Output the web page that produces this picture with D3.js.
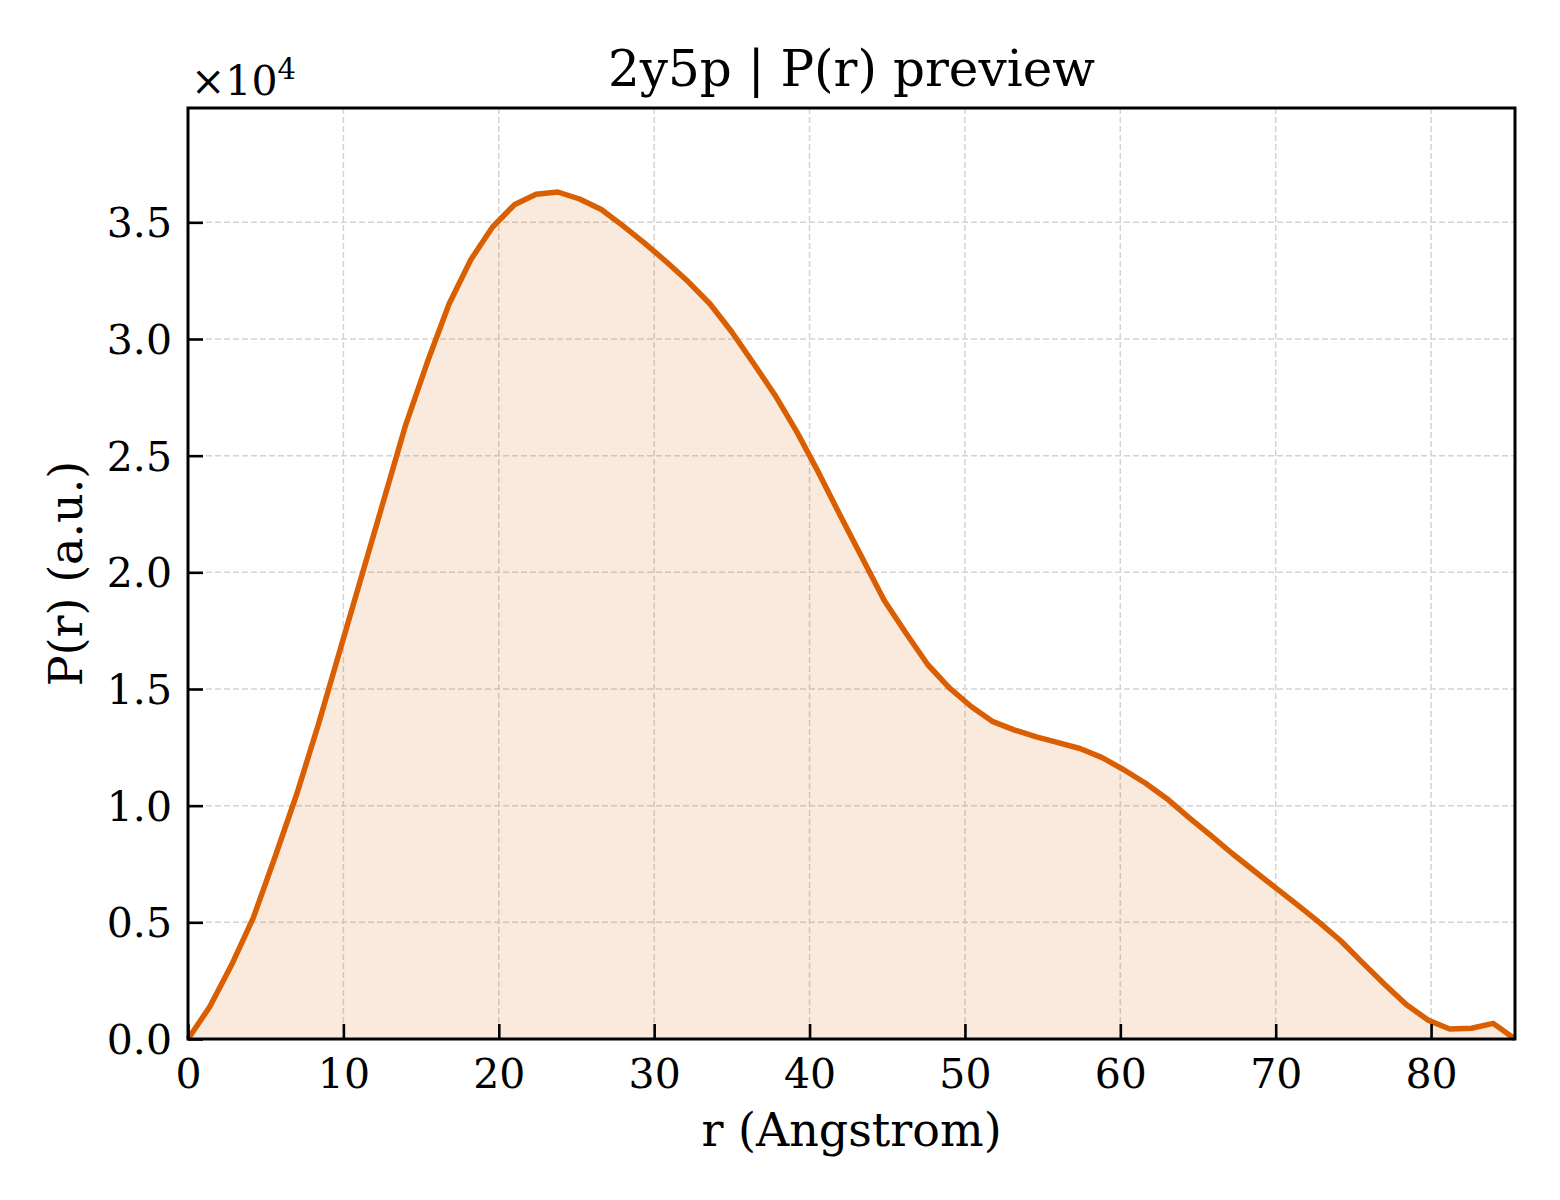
<!DOCTYPE html>
<html>
<head>
<meta charset="utf-8">
<script src="https://cdn.jsdelivr.net/npm/d3@7"></script>
<style>
  body { margin: 0; background: #fff; }
  svg { display: block; font-family: "DejaVu Serif", serif; }
</style>
</head>
<body>
<div id="chart"></div>
<script>
const rValues = [0, 1.4, 2.8, 4.2, 5.6, 7.0, 8.4, 9.8, 11.2, 12.6, 14.0, 15.4, 16.8, 18.2, 19.6,
  21.0, 22.4, 23.8, 25.2, 26.6, 28.0, 29.4, 30.8, 32.2, 33.6, 35.0, 36.4, 37.8, 39.2, 40.6,
  42.0, 43.4, 44.8, 46.2, 47.6, 49.0, 50.4, 51.8, 53.2, 54.6, 56.0, 57.4, 58.8, 60.2, 61.6,
  63.0, 64.4, 65.8, 67.2, 68.6, 70.0, 71.4, 72.8, 74.2, 75.6, 77.0, 78.4, 79.8, 81.2, 82.6,
  84.0, 85.4];
const prValues = [0, 1380, 3170, 5190, 7800, 10500, 13500, 16700, 19900, 23100, 26300, 29000,
  31500, 33400, 34800, 35750, 36200, 36300, 36000, 35550, 34850, 34100, 33300, 32450, 31500,
  30300, 28950, 27570, 26000, 24250, 22400, 20600, 18800, 17400, 16050, 15050, 14250, 13600,
  13240, 12950, 12700, 12450, 12070, 11550, 10970, 10300, 9500, 8740, 7950, 7210, 6480, 5750,
  5000, 4200, 3260, 2350, 1480, 810, 430, 460, 670, 0];
const xTicks = [0, 10, 20, 30, 40, 50, 60, 70, 80];
const yTicks = [0, 5000, 10000, 15000, 20000, 25000, 30000, 35000];

const data = rValues.map((r, i) => ({ r: r, p: prValues[i] }));

const width = 1560, height = 1200;
const margin = { left: 188, right: 45, top: 108, bottom: 161 };
const innerW = width - margin.left - margin.right;
const innerH = height - margin.top - margin.bottom;
const color = "#d95f02";

const svg = d3.select("#chart")
  .append("svg")
  .attr("width", width)
  .attr("height", height);

const x = d3.scaleLinear().domain([0, 85.4]).range([0, innerW]);
const y = d3.scaleLinear().domain([0, 39900]).range([innerH, 0]);

const g = svg.append("g")
  .attr("transform", `translate(${margin.left},${margin.top})`);

// grid
g.append("g").selectAll("line")
  .data(xTicks.filter(d => d > 0))
  .join("line")
  .attr("x1", d => x(d)).attr("x2", d => x(d))
  .attr("y1", 0).attr("y2", innerH)
  .attr("stroke", "#d4d4d4").attr("stroke-width", 1.5)
  .attr("stroke-dasharray", "6,3");

g.append("g").selectAll("line")
  .data(yTicks.filter(d => d > 0))
  .join("line")
  .attr("x1", 0).attr("x2", innerW)
  .attr("y1", d => y(d)).attr("y2", d => y(d))
  .attr("stroke", "#d4d4d4").attr("stroke-width", 1.5)
  .attr("stroke-dasharray", "6,3");

// fill + curve
const area = d3.area()
  .x(d => x(d.r))
  .y0(y(0))
  .y1(d => y(d.p));
const line = d3.line()
  .x(d => x(d.r))
  .y(d => y(d.p));

g.append("path")
  .datum(data)
  .attr("d", area)
  .attr("fill", color)
  .attr("fill-opacity", 0.13);

g.append("path")
  .datum(data)
  .attr("d", line)
  .attr("fill", "none")
  .attr("stroke", color)
  .attr("stroke-width", 5.5)
  .attr("stroke-linejoin", "round");

// axes (ticks point inward)
const xAxis = d3.axisBottom(x)
  .tickValues(xTicks)
  .tickSize(-15)
  .tickPadding(20)
  .tickFormat(d3.format("d"));
const yAxis = d3.axisLeft(y)
  .tickValues(yTicks)
  .tickSize(-15)
  .tickPadding(16)
  .tickFormat(d => (d / 1e4).toFixed(1));

const gx = g.append("g")
  .attr("transform", `translate(0,${innerH})`)
  .call(xAxis);
const gy = g.append("g").call(yAxis);

[gx, gy].forEach(ax => {
  ax.select(".domain").remove();
  ax.selectAll(".tick line").attr("stroke", "#000").attr("stroke-width", 2.6);
  ax.selectAll(".tick text")
    .attr("fill", "#000")
    .style("font-family", "DejaVu Serif")
    .style("font-size", "41px");
});
gy.selectAll(".tick text").attr("dy", "0.35em");

// frame
g.append("rect")
  .attr("width", innerW).attr("height", innerH)
  .attr("fill", "none")
  .attr("stroke", "#000")
  .attr("stroke-width", 3);

// offset text
svg.append("text")
  .attr("x", 191).attr("y", 95)
  .style("font-size", "41px")
  .text("×10")
  .append("tspan")
  .attr("dy", -16)
  .style("font-size", "29px")
  .text("4");

// title and labels
svg.append("text")
  .attr("x", margin.left + innerW / 2).attr("y", 86)
  .attr("text-anchor", "middle")
  .style("font-size", "50px")
  .text("2y5p | P(r) preview");

svg.append("text")
  .attr("x", margin.left + innerW / 2).attr("y", 1146)
  .attr("text-anchor", "middle")
  .style("font-size", "46px")
  .text("r (Angstrom)");

svg.append("text")
  .attr("transform", `translate(82,${margin.top + innerH / 2}) rotate(-90)`)
  .attr("text-anchor", "middle")
  .style("font-size", "46px")
  .text("P(r) (a.u.)");
</script>
</body>
</html>
